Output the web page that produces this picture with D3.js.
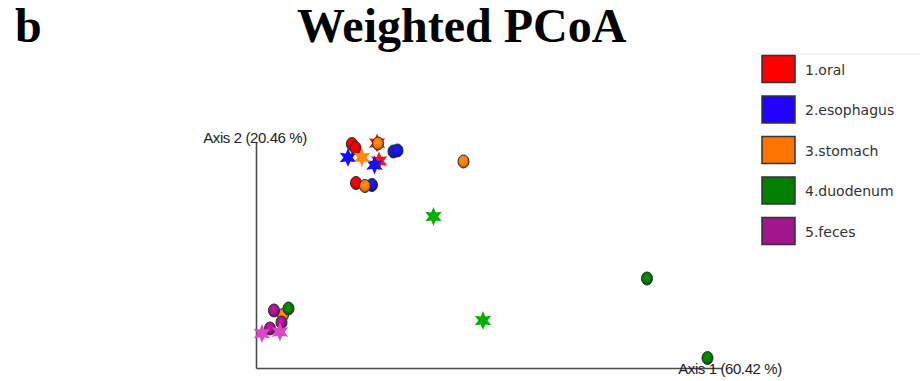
<!DOCTYPE html>
<html>
<head>
<meta charset="utf-8">
<script src="https://cdn.jsdelivr.net/npm/d3@7"></script>
<style>
  body { margin: 0; background: #fff; }
  svg { display: block; }
</style>
</head>
<body>
<div id="chart"></div>
<script>
// Groups and legend colours
const groups = ['1.oral', '2.esophagus', '3.stomach', '4.duodenum', '5.feces'];
const legendColors = ['#ff0000', '#2200ff', '#ff7300', '#007f00', '#a0168c'];
const circleColors = ['#f00000', '#1414f0', '#ff7a00', '#007a00', '#a01490'];
const starColors = ['#ff1010', '#1010ff', '#ff8c00', '#00b000', '#dc46c8'];

// PCoA coordinates (axis 1, axis 2), group index, marker shape
const axis1 = [-0.156, -0.1505, -0.1182, -0.1152, -0.1498,
               -0.0935, -0.0874, -0.1618, -0.122, -0.1258,
               -0.1167, -0.1408, -0.1363, 0.0117, -0.2594,
               -0.0334, 0.041, 0.2873, 0.3782, -0.2512,
               -0.273, -0.2617, -0.279, -0.291, -0.264];
const axis2 = [0.246, 0.238, 0.248, 0.212, 0.1684,
               0.2311, 0.2331, 0.2192, 0.2042, 0.1644,
               0.247, 0.2192, 0.1624, 0.2112, -0.0945,
               0.1017, -0.1054, -0.0218, -0.1801, -0.0815,
               -0.0855, -0.1094, -0.1213, -0.1313, -0.1283];
const groupIdx = [0, 0, 0, 0, 0, 1, 1, 1, 1, 1, 2, 2, 2, 2, 2, 3, 3, 3, 3, 3, 4, 4, 4, 4, 4];
const shapes = ['circle', 'circle', 'star', 'star', 'circle',
                'circle', 'circle', 'star', 'star', 'circle',
                'circle', 'star', 'circle', 'circle', 'circle',
                'star', 'star', 'circle', 'circle', 'circle',
                'circle', 'circle', 'circle', 'star', 'star'];

const axisLabels = ['Axis 1 (60.42 %)', 'Axis 2 (20.46 %)'];

let width = 920, height = 381;

const svg = d3.select('#chart')
    .append('svg')
    .attr('width', width)
    .attr('height', height);

// gradients for the shaded circles
const defs = svg.append('defs');
circleColors.forEach((c, i) => {
    let g = defs.append('radialGradient')
        .attr('id', 'grad' + i)
        .attr('cx', '45%').attr('cy', '40%').attr('r', '60%');
    g.append('stop').attr('offset', '0%').attr('stop-color', d3.color(c).brighter(0.6));
    g.append('stop').attr('offset', '60%').attr('stop-color', c);
    g.append('stop').attr('offset', '100%').attr('stop-color', d3.color(c).darker(1.4));
});

// Titles
svg.append('text')
    .attr('x', 15).attr('y', 42)
    .style('font-family', '"Liberation Serif", "Times New Roman", serif')
    .style('font-weight', 'bold')
    .style('font-size', '48px')
    .text('b');

svg.append('text')
    .attr('x', 297).attr('y', 42)
    .style('font-family', '"Liberation Serif", "Times New Roman", serif')
    .style('font-weight', 'bold')
    .style('font-size', '48px')
    .text('Weighted PCoA');

// SCALES
let xScale = d3.scaleLinear().domain([-0.3, 0.4]).range([256, 722]);
let yScale = d3.scaleLinear().domain([-0.2, 0.25]).range([368, 142]);

// AXES (lines only, no ticks)
let xAxis = d3.axisBottom(xScale).ticks(0).tickSizeOuter(0);
let yAxis = d3.axisLeft(yScale).ticks(0).tickSizeOuter(0);

let gX = svg.append('g')
    .attr('transform', 'translate(0,' + yScale.range()[0] + ')')
    .call(xAxis);
let gY = svg.append('g')
    .attr('transform', 'translate(' + xScale.range()[0] + ',0)')
    .call(yAxis);
[gX, gY].forEach(g => g.select('.domain')
    .attr('stroke', '#4a4a4a')
    .attr('stroke-width', 1.6));

// axis labels
const labelFont = '"Liberation Sans", Arial, sans-serif';
svg.append('text')
    .attr('x', xScale.range()[1] + 8)
    .attr('y', yScale.range()[0])
    .attr('text-anchor', 'middle')
    .attr('dominant-baseline', 'central')
    .style('font-family', labelFont)
    .style('font-size', '15px')
    .style('letter-spacing', '-0.4px')
    .attr('fill', '#222')
    .text(axisLabels[0]);

svg.append('text')
    .attr('x', xScale.range()[0] - 1)
    .attr('y', yScale.range()[1] + 1)
    .attr('text-anchor', 'middle')
    .style('font-family', labelFont)
    .style('font-size', '15px')
    .style('letter-spacing', '-0.4px')
    .attr('fill', '#222')
    .text(axisLabels[1]);

// six pointed star path
function starPath(outer, inner) {
    let pts = d3.range(12).map(k => {
        let r = k % 2 ? inner : outer;
        let a = k * Math.PI / 6;
        return [r * Math.sin(a), -r * Math.cos(a)];
    });
    return d3.line()(pts) + 'Z';
}

// POINTS
let points = axis1.map((v, i) => ({
    x: v, y: axis2[i], g: groupIdx[i], shape: shapes[i]
}));

let marks = svg.append('g').attr('class', 'points');

points.forEach(d => {
    let tx = xScale(d.x), ty = yScale(d.y);
    if (d.shape === 'star') {
        marks.append('path')
            .attr('d', starPath(9.5, 4.6))
            .attr('transform', 'translate(' + tx + ',' + ty + ')')
            .attr('fill', starColors[d.g]);
    } else {
        marks.append('ellipse')
            .attr('cx', tx).attr('cy', ty)
            .attr('rx', 5.5).attr('ry', 6.5)
            .attr('fill', 'url(#grad' + d.g + ')')
            .attr('stroke', '#2a2a2a')
            .attr('stroke-width', 1);
    }
});

// LEGEND
let legend = svg.append('g').attr('class', 'legend');
legend.append('line')
    .attr('x1', 758).attr('x2', 920)
    .attr('y1', 54).attr('y2', 54)
    .attr('stroke', '#e6e6e6');

let rows = legend.selectAll('.row')
    .data(groups).enter()
    .append('g')
    .attr('transform', (d, i) => 'translate(762,' + (55.5 + i * 40.5) + ')');

rows.append('rect')
    .attr('width', 33).attr('height', 27)
    .attr('fill', (d, i) => legendColors[i])
    .attr('stroke', '#333')
    .attr('stroke-width', 1.5);

rows.append('text')
    .attr('x', 43).attr('y', 14)
    .attr('dominant-baseline', 'central')
    .style('font-family', '"DejaVu Sans", Verdana, sans-serif')
    .style('font-size', '14px')
    .attr('fill', '#333')
    .text(d => d);
</script>
</body>
</html>
